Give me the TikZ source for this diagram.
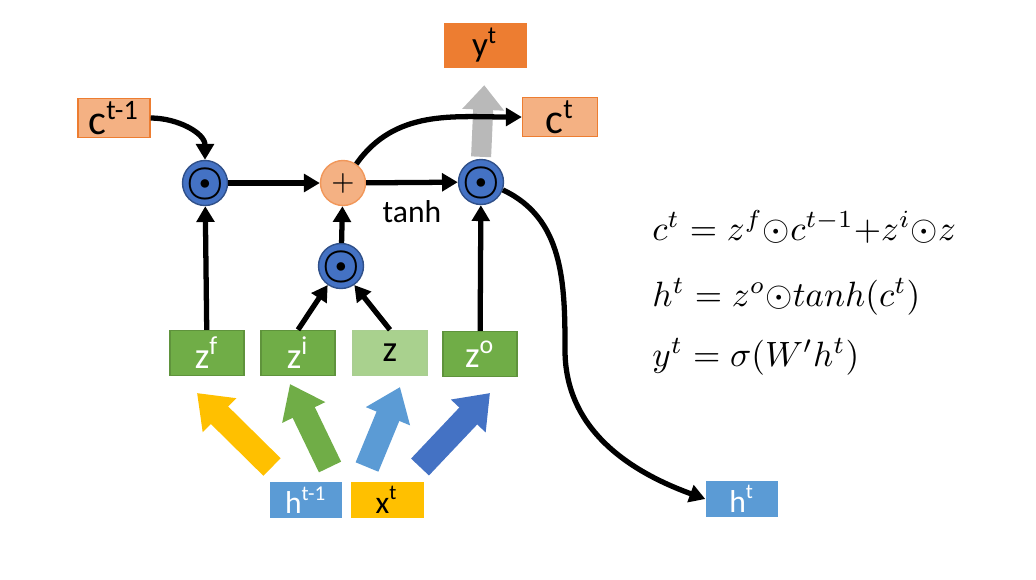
\documentclass[tikz,border=0pt]{standalone}
\usepackage{fontspec}
\setsansfont{Carlito}
\usetikzlibrary{arrows.meta}

\definecolor{gateGreen}{HTML}{70AD47}
\definecolor{inGreen}{HTML}{A9D18E}
\definecolor{multBlue}{HTML}{4472C4}
\definecolor{cellOrange}{HTML}{F4B183}
\definecolor{outOrange}{HTML}{ED7D31}
\definecolor{hBlue}{HTML}{5B9BD5}
\definecolor{xGold}{HTML}{FFC000}

% Symbol in der Mitte eines Kreises, ohne die Kreisgroesse zu veraendern
\newcommand{\dotsym}{\makebox[0pt]{\raisebox{-3.2pt}[0pt][0pt]{\fontsize{13}{13}\selectfont\boldmath$\odot$}}}

\tikzset{
  gatebox/.style={rectangle, fill=gateGreen, draw=gateGreen!85!black, minimum width=7.4mm, minimum height=4.5mm, inner sep=0pt, text=white, font=\sffamily\fontsize{10.5}{11}\selectfont},
  cellbox/.style={rectangle, fill=cellOrange, draw=outOrange, minimum width=7.2mm, minimum height=3.9mm, inner sep=0pt, font=\sffamily\fontsize{12}{12}\selectfont},
  vecbox/.style={rectangle, fill=#1, minimum width=7.2mm, minimum height=3.6mm, inner sep=0pt, font=\sffamily\fontsize{9}{9}\selectfont},
  mult/.style={circle, fill=multBlue, draw=multBlue!70!black, minimum size=4.5mm, inner sep=0pt},
  flow/.style={line width=1.5pt, -{Triangle[length=4.5pt,width=5pt]}},
  fat/.style={line width=7pt, draw=#1, -{Triangle[length=9pt,width=13pt]}},
}

\begin{document}
\begin{tikzpicture}[x=0.1mm, y=-0.1mm]
  \useasboundingbox (0,0) rectangle (1036,579);

  % Ausgabe und Zellzustand
  \node[vecbox=outOrange, minimum width=8.3mm, minimum height=4.5mm, font=\sffamily\fontsize{10}{10}\selectfont] (yout) at (485,45) {y\textsuperscript{t}};
  \node[cellbox] (cprev) at (114,118) {c\textsuperscript{t-1}};
  \node[cellbox, minimum width=7.5mm] (cnow) at (560,117) {c\textsuperscript{t}};

  % Knoten fuer Multiplikation und Addition
  \node[mult] (m1) at (205,183) {\dotsym};
  \node[mult, fill=cellOrange, draw=outOrange!80!white, font=\fontsize{8}{8}\selectfont] (plus) at (343,183) {$+$};
  \node[mult] (m3) at (481,182) {\dotsym};
  \node[mult] (m2) at (341,266) {\dotsym};

  % Gates
  \node[gatebox] (zf) at (207,353) {z\textsuperscript{f}};
  \node[gatebox] (zi) at (298,353) {z\textsuperscript{i}};
  \node[gatebox, fill=inGreen, draw=gateGreen!60!white, text=black] (zc) at (390,353) {z};
  \node[gatebox] (zo) at (480,354) {z\textsuperscript{o}};

  % Eingaenge und Ausgang h
  \node[vecbox=hBlue, text=white] (hprev) at (306,500) {h\textsuperscript{t-1}};
  \node[vecbox=xGold, minimum width=7.3mm] (xt) at (387,500) {x\textsuperscript{t}};
  \node[vecbox=hBlue, text=white] (hnow) at (742,499) {h\textsuperscript{t}};

  % Breite Pfeile von h^{t-1} und x^t zu den Gates
  \coordinate (ytail) at (272,467); \coordinate (ytip) at (197,393);
  \coordinate (gtail) at (330,467); \coordinate (gtip) at (290,384);
  \coordinate (btail) at (367,467); \coordinate (btip) at (400,387);
  \coordinate (dtail) at (420,467); \coordinate (dtip) at (490,393);
  \draw[fat=xGold] (ytail) -- (ytip);
  \draw[fat=gateGreen] (gtail) -- (gtip);
  \draw[fat=hBlue] (btail) -- (btip);
  \draw[fat=multBlue] (dtail) -- (dtip);

  % Grauer Pfeil zu y^t
  \draw[line width=5.7pt, gray!55, -{Triangle[length=7pt,width=11.5pt]}, shorten >=1.7mm, shorten <=0.2mm] (m3.north) -- (yout.south);

  % Schwarze Verbindungen
  \draw[flow] (cprev.east) to[out=0, in=90] (m1.north);
  \draw[flow] (m1) -- (plus);
  \draw[flow] (plus) -- node[below=1pt, font=\sffamily\fontsize{9}{9}\selectfont] (tanh) {tanh} (m3);
  \draw[flow] (plus.55) to[out=55, in=180] (cnow.west);
  \draw[flow] (m2) -- (plus);
  \draw[flow] (zf) -- (m1);
  \draw[flow] (zi.north) -- (m2.-125);
  \draw[flow] (zc.north) -- (m2.-55);
  \draw[flow] (zo) -- (m3);
  \coordinate (bend) at (565,350);
  \draw[flow] (m3.-20) to[out=-25, in=90] (bend) to[out=-90, in=160] (hnow.west);

  % Gleichungen
  \begin{scope}[every node/.style={anchor=base west, font=\fontsize{10.3}{12}\selectfont}]
    \node (eqc) at (640,240) {$c^t = z^f{\odot}c^{t-1}{+}z^i{\odot}z$};
    \node (eqh) at (640,306) {$h^t = z^o{\odot}tanh(c^t)$};
    \node (eqy) at (640,366) {$y^t = \sigma(W'h^t)$};
  \end{scope}
\end{tikzpicture}
\end{document}
